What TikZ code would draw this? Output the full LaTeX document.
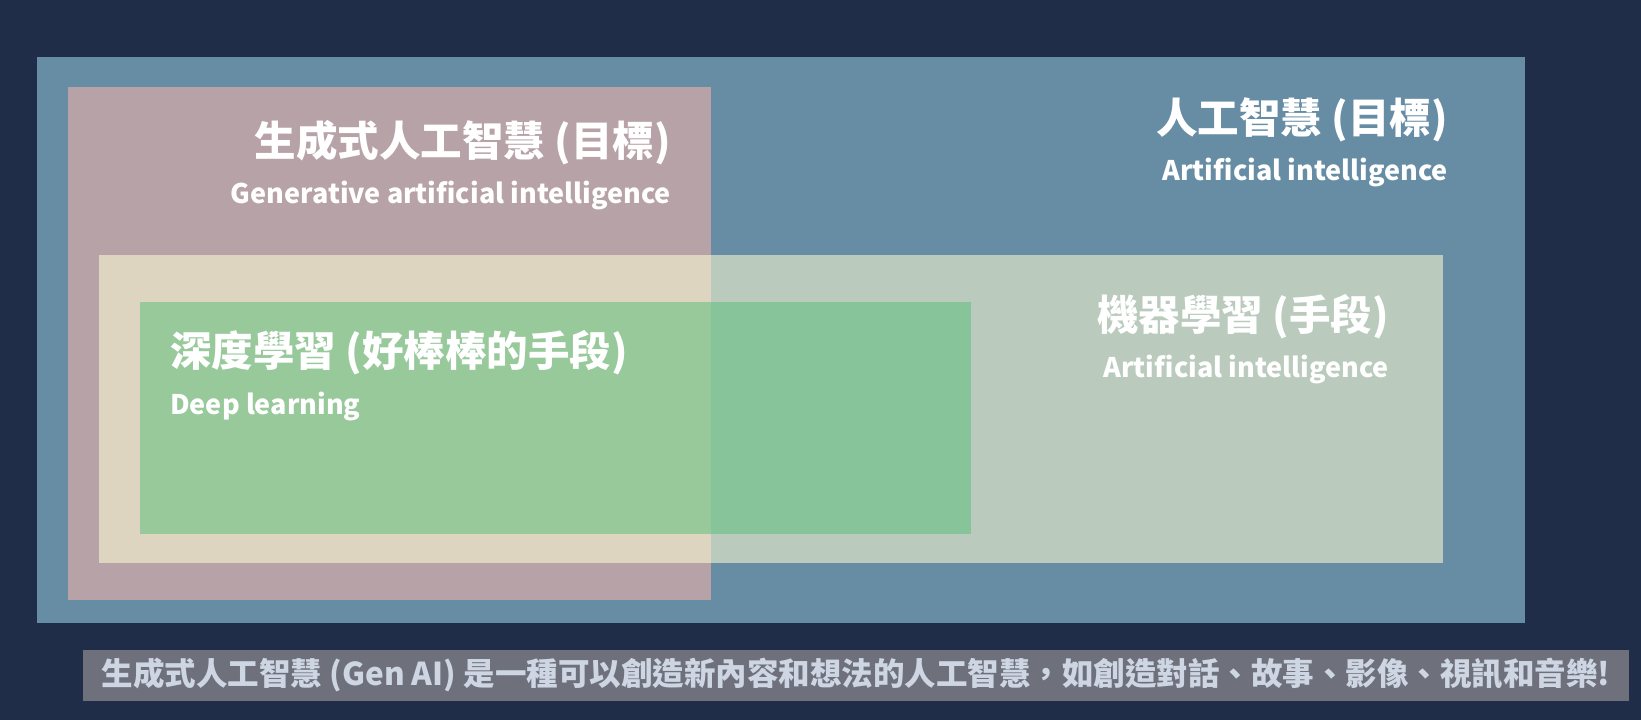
\documentclass[tikz,border=0pt]{standalone}
\usepackage{fontspec}
\setmainfont{Noto Sans CJK TC}
\definecolor{bgc}{RGB}{31,45,72}
\definecolor{aic}{RGB}{103,141,165}
\definecolor{genc}{RGB}{183,162,168}
\definecolor{mlc}{RGB}{252,253,211}
\definecolor{dlc}{RGB}{87,191,120}
\definecolor{capbar}{RGB}{110,113,124}
\definecolor{captext}{RGB}{205,214,226}
\tikzset{
  bigtitle/.style={inner sep=0pt, text=white, font=\fontsize{41.5}{41.5}\selectfont\bfseries},
  subtitle/.style={inner sep=0pt, text=white, font=\fontsize{27}{27}\selectfont\bfseries},
  captiontext/.style={inner sep=0pt, text=captext, font=\fontsize{31.5}{31.5}\selectfont\bfseries},
}
\begin{document}
\begin{tikzpicture}[x=1pt,y=-1pt]
\fill[bgc] (0,0) rectangle (1641,720);
\useasboundingbox (0,0) rectangle (1641,720);
% boxes
\fill[aic] (37,57) rectangle (1525,623);
\fill[genc] (68,87) rectangle (711,600);
\fill[mlc, fill opacity=0.5625] (99,255) rectangle (1443,563);
\fill[dlc, fill opacity=0.51] (140,302) rectangle (971,534);
\fill[capbar] (83,650) rectangle (1629,701);
% labels
\node[bigtitle, anchor=base east] (genzh) at (671,156) {生成式人工智慧 (目標)};
\node[subtitle, anchor=base east] (genen) at (671,203) {Generative artificial intelligence};
\node[bigtitle, anchor=base east] (aizh) at (1448,133) {人工智慧 (目標)};
\node[subtitle, anchor=base east] (aien) at (1448,180) {Artificial intelligence};
\node[bigtitle, anchor=base east] (mlzh) at (1389,330) {機器學習 (手段)};
\node[subtitle, anchor=base east] (mlen) at (1389,377) {Artificial intelligence};
\node[bigtitle, anchor=base west] (dlzh) at (170,366) {深度學習 (好棒棒的手段)};
\node[subtitle, anchor=base west] (dlen) at (170,414) {Deep learning};
\node[captiontext, anchor=center] (cap) at (856,675) {生成式人工智慧 (Gen AI) 是一種可以創造新內容和想法的人工智慧，如創造對話、故事、影像、視訊和音樂!};
\end{tikzpicture}
\end{document}
